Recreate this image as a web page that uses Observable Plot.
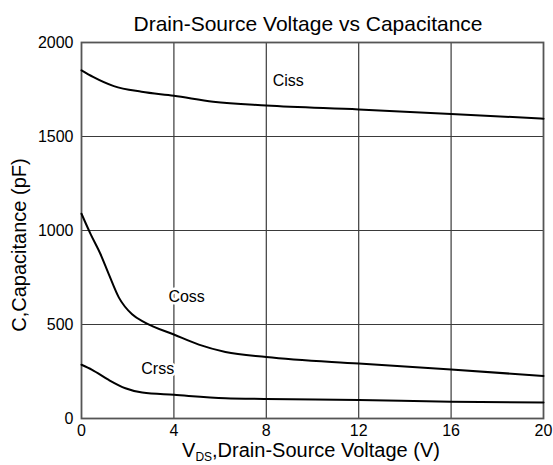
<!DOCTYPE html>
<html>
<head>
<meta charset="utf-8">
<script src="https://cdn.jsdelivr.net/npm/d3@7"></script>
<script src="https://cdn.jsdelivr.net/npm/@observablehq/plot@0.6"></script>
<style>
  html, body { margin: 0; padding: 0; background: #fff; }
  #chart { width: 553px; height: 465px; }
</style>
</head>
<body>
<div id="chart"></div>
<script>
// ---- data ----
const cissV = [0, 0.5, 1.4, 2.6, 4, 5.7, 8, 12, 16, 20];
const cissC = [1852, 1817, 1768, 1738, 1717, 1685, 1665, 1644, 1620, 1595];

const cossV = [0, 0.39, 0.82, 1.18, 1.62, 2.19, 2.77, 4, 5.08, 6.23, 8, 12, 16, 20];
const cossC = [1089, 982, 875, 768, 643, 554, 509, 447, 393, 354, 327, 292, 261, 226];

const crssV = [0, 0.46, 1.18, 1.9, 2.63, 4, 6.23, 8, 12, 16, 20];
const crssC = [286, 259, 205, 161, 138, 126, 108, 104, 98, 89, 85];

const xTicks = [0, 4, 8, 12, 16, 20];
const yTicks = [0, 500, 1000, 1500, 2000];

const labelNames = ["Ciss", "Coss", "Crss"];
const labelV = [8.95, 4.55, 3.3];
const labelC = [1798, 649, 266];

const titleText = "Drain-Source Voltage vs Capacitance";
const yTitle = "C,Capacitance (pF)";

// ---- build tables ----
const toRows = (vs, cs) => vs.map((v, i) => ({v, c: cs[i]}));
const ciss = toRows(cissV, cissC);
const coss = toRows(cossV, cossC);
const crss = toRows(crssV, crssC);
const labels = labelNames.map((n, i) => ({n, v: labelV[i], c: labelC[i]}));

const font = "'Liberation Sans', Arial, sans-serif";

const chart = Plot.plot({
  width: 553,
  height: 465,
  marginLeft: 81,
  marginRight: 10,
  marginTop: 42,
  marginBottom: 47,
  style: {fontFamily: font, fontSize: "16px", color: "#000", background: "#fff"},
  x: {domain: [0, 20], ticks: xTicks, label: null},
  y: {domain: [0, 2000], ticks: yTicks, label: null},
  marks: [
    Plot.ruleX(xTicks.slice(1, -1), {stroke: "#3a3a3a", strokeWidth: 1.2}),
    Plot.ruleY(yTicks.slice(1, -1), {stroke: "#3a3a3a", strokeWidth: 1.2}),
    Plot.frame({stroke: "#555", strokeWidth: 1.8}),
    Plot.axisX({ticks: xTicks, tickSize: 0, tickPadding: 6, fontSize: 16, label: null,
                tickFormat: d => String(d)}),
    Plot.axisY({ticks: yTicks, tickSize: 0, tickPadding: 8, fontSize: 16, label: null,
                tickFormat: d => String(d)}),
    Plot.line(ciss, {x: "v", y: "c", stroke: "#000", strokeWidth: 2, curve: "monotone-x"}),
    Plot.line(coss, {x: "v", y: "c", stroke: "#000", strokeWidth: 2, curve: "monotone-x"}),
    Plot.line(crss, {x: "v", y: "c", stroke: "#000", strokeWidth: 2, curve: "monotone-x"}),
    Plot.text(labels, {x: "v", y: "c", text: "n", fontSize: 16, fill: "#000",
                       stroke: "#fff", strokeWidth: 5})
  ]
});

document.getElementById("chart").appendChild(chart);

const svg = d3.select(chart);
// title
svg.append("text")
  .attr("x", 308).attr("y", 31)
  .attr("text-anchor", "middle")
  .style("font-family", font).style("font-size", "21px").attr("fill", "#000")
  .text(titleText);
// y axis title
svg.append("text")
  .attr("transform", "translate(26,245) rotate(-90)")
  .attr("text-anchor", "middle")
  .style("font-family", font).style("font-size", "20px").attr("fill", "#000")
  .text(yTitle);
// x axis title with subscript
const xt = svg.append("text")
  .attr("x", 311).attr("y", 457)
  .attr("text-anchor", "middle")
  .style("font-family", font).style("font-size", "20px").attr("fill", "#000");
xt.append("tspan").text("V");
xt.append("tspan").attr("dy", 4).style("font-size", "12px").text("DS");
xt.append("tspan").attr("dy", -4).text(",Drain-Source Voltage (V)");
</script>
</body>
</html>
